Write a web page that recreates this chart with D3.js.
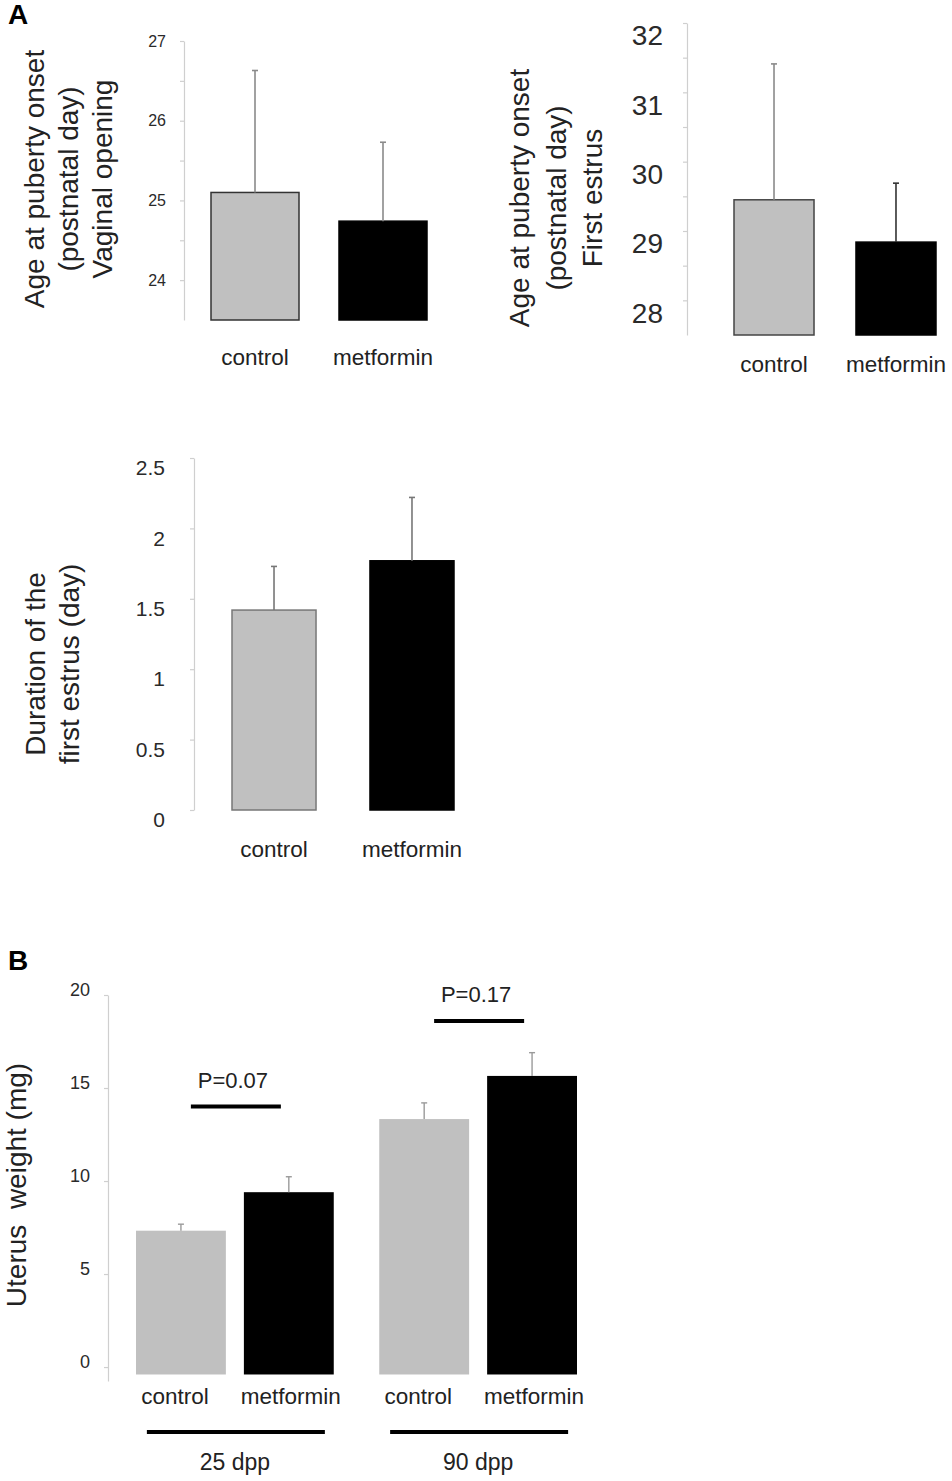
<!DOCTYPE html>
<html>
<head>
<meta charset="utf-8">
<script src="https://cdn.jsdelivr.net/npm/d3@7"></script>
<style>
  body { margin: 0; background: #fff; }
  svg text { font-family: "Liberation Sans", Arial, sans-serif; }
</style>
</head>
<body>
<div id="chart"></div>
<script>
// ---- data ----
const categories = ["control", "metformin"];

// A, top left: vaginal opening (postnatal day)
const vaginalMean = [25.1, 24.74];
const vaginalSD = [1.53, 0.99];
const vaginalTicks = [24, 24.5, 25, 25.5, 26, 26.5, 27];
const vaginalLabels = [24, 25, 26, 27];

// A, top right: first estrus (postnatal day)
const estrusMean = [29.45, 28.84];
const estrusSD = [1.96, 0.85];
const estrusTicks = [28, 28.5, 29, 29.5, 30, 30.5, 31, 31.5, 32];
const estrusLabels = [28, 29, 30, 31, 32];

// A, middle: duration of the first estrus (day)
const durationMean = [1.42, 1.77];
const durationSD = [0.31, 0.45];
const durationTicks = [0, 0.5, 1, 1.5, 2, 2.5];

// B: uterus weight (mg)
const ageGroups = ["25 dpp", "90 dpp"];
const uterusMean = [[7.33, 9.4], [13.33, 15.65]];
const uterusSD = [[0.35, 0.83], [0.87, 1.25]];
const uterusTicks = [0, 5, 10, 15, 20];
const pValues = ["P=0.07", "P=0.17"];
const pLevel = [14, 18.6];
const uterusBarFloor = -0.4;

const barFill = ["#c0c0c0", "#000000"];

const svg = d3.select("#chart")
  .append("svg")
  .attr("width", 952)
  .attr("height", 1481);

// panel letters
svg.append("text").attr("x", 8).attr("y", 24)
  .style("font-size", "28px").style("font-weight", "bold").text("A");
svg.append("text").attr("x", 8).attr("y", 970)
  .style("font-size", "28px").style("font-weight", "bold").text("B");

function styleAxis(g, cfg) {
  g.select(".domain").attr("stroke", "#cfcfcf").attr("stroke-width", 1.2);
  g.selectAll(".tick line").attr("stroke", "#cfcfcf").attr("stroke-width", 1.2);
  g.selectAll(".tick text")
    .attr("fill", "#2a2a2a")
    .attr("y", cfg.labelShift || 0)
    .style("font-size", cfg.tickFont + "px");
}

function yTitle(lines, baselines, cy) {
  lines.forEach((t, i) => {
    svg.append("text")
      .attr("transform", `translate(${baselines[i]},${cy}) rotate(-90)`)
      .attr("text-anchor", "middle")
      .attr("fill", "#222")
      .style("font-size", "28px")
      .style("white-space", "pre")
      .text(t);
  });
}

function drawSimplePanel(cfg) {
  const y = d3.scaleLinear().domain(cfg.domain).range(cfg.yRange);
  const x = d3.scaleBand().domain(categories).range(cfg.xRange)
    .paddingInner(cfg.padding).paddingOuter(0);

  const axis = d3.axisLeft(y)
    .tickValues(cfg.ticks)
    .tickFormat(d => (cfg.labels ? (cfg.labels.includes(d) ? d : "") : d))
    .tickSize(4)
    .tickSizeOuter(0)
    .tickPadding(cfg.tickPadding);

  const ga = svg.append("g")
    .attr("transform", `translate(${cfg.axisX},0)`)
    .call(axis);
  styleAxis(ga, cfg);

  const base = cfg.domain[0];
  const g = svg.append("g");

  g.selectAll(".bar")
    .data(categories)
    .enter()
    .append("rect")
    .attr("class", "bar")
    .attr("x", d => x(d))
    .attr("y", (d, i) => y(cfg.mean[i]))
    .attr("width", x.bandwidth())
    .attr("height", (d, i) => y(base) - y(cfg.mean[i]))
    .attr("fill", (d, i) => barFill[i])
    .attr("stroke", (d, i) => (i === 0 ? cfg.barStroke : "#000"))
    .attr("stroke-width", 1.5);

  // error bars (upper only)
  categories.forEach((c, i) => {
    const cx = x(c) + x.bandwidth() / 2;
    const top = y(cfg.mean[i] + cfg.sd[i]);
    g.append("line")
      .attr("x1", cx).attr("x2", cx)
      .attr("y1", y(cfg.mean[i])).attr("y2", top)
      .attr("stroke", cfg.errColor[i]).attr("stroke-width", 1.6);
    g.append("line")
      .attr("x1", cx - 3).attr("x2", cx + 3)
      .attr("y1", top).attr("y2", top)
      .attr("stroke", cfg.errColor[i]).attr("stroke-width", 1.6);
  });

  g.selectAll(".cat")
    .data(categories)
    .enter()
    .append("text")
    .attr("class", "cat")
    .attr("x", d => x(d) + x.bandwidth() / 2)
    .attr("y", cfg.catY)
    .attr("text-anchor", "middle")
    .attr("fill", "#222")
    .style("font-size", "22.5px")
    .text(d => d);

  yTitle(cfg.title, cfg.titleX, cfg.titleY);
}

drawSimplePanel({
  mean: vaginalMean, sd: vaginalSD,
  domain: [23.5, 27], yRange: [320, 41],
  ticks: vaginalTicks, labels: vaginalLabels,
  tickFont: 16, tickPadding: 14, labelShift: 0,
  axisX: 184, xRange: [211, 427], padding: 0.3125,
  barStroke: "#333", errColor: ["#8a8a8a", "#8a8a8a"],
  catY: 365,
  title: ["Age at puberty onset", "(postnatal day)", "Vaginal opening"],
  titleX: [44, 78, 112], titleY: 179
});

drawSimplePanel({
  mean: estrusMean, sd: estrusSD,
  domain: [27.5, 32], yRange: [335, 23],
  ticks: estrusTicks, labels: estrusLabels,
  tickFont: 28, tickPadding: 20, labelShift: 13,
  axisX: 687, xRange: [734, 936], padding: 0.344,
  barStroke: "#444", errColor: ["#8a8a8a", "#333"],
  catY: 372,
  title: ["Age at puberty onset", "(postnatal day)", "First estrus"],
  titleX: [529, 566, 602], titleY: 198
});

drawSimplePanel({
  mean: durationMean, sd: durationSD,
  domain: [0, 2.5], yRange: [810, 458],
  ticks: durationTicks, labels: null,
  tickFont: 21, tickPadding: 25, labelShift: 10,
  axisX: 194, xRange: [232, 454], padding: 0.391,
  barStroke: "#777", errColor: ["#777", "#777"],
  catY: 857,
  title: ["Duration of the", "first estrus (day)"],
  titleX: [45, 79], titleY: 664
});

// ---- panel B: grouped bars ----
(function () {
  const y = d3.scaleLinear().domain([-0.75, 20]).range([1381, 995]);
  const x0 = d3.scaleBand().domain(ageGroups).range([136, 577])
    .paddingInner(0.187).paddingOuter(0);
  const x1 = d3.scaleBand().domain(categories).range([0, x0.bandwidth()])
    .paddingInner(0.167).paddingOuter(0);

  const axis = d3.axisLeft(y)
    .tickValues(uterusTicks)
    .tickSize(4)
    .tickSizeOuter(0)
    .tickPadding(14);
  const ga = svg.append("g").attr("transform", "translate(108,0)").call(axis);
  styleAxis(ga, { tickFont: 18, labelShift: -5 });

  const groups = svg.selectAll(".grp")
    .data(ageGroups)
    .enter()
    .append("g")
    .attr("class", "grp")
    .attr("transform", d => `translate(${x0(d)},0)`);

  groups.each(function (grp, gi) {
    const g = d3.select(this);
    g.selectAll("rect")
      .data(categories)
      .enter()
      .append("rect")
      .attr("x", d => x1(d))
      .attr("y", (d, i) => y(uterusMean[gi][i]))
      .attr("width", x1.bandwidth())
      .attr("height", (d, i) => y(uterusBarFloor) - y(uterusMean[gi][i]))
      .attr("fill", (d, i) => barFill[i]);

    categories.forEach((c, i) => {
      const cx = x1(c) + x1.bandwidth() / 2;
      const top = y(uterusMean[gi][i] + uterusSD[gi][i]);
      g.append("line")
        .attr("x1", cx).attr("x2", cx)
        .attr("y1", y(uterusMean[gi][i])).attr("y2", top)
        .attr("stroke", "#9a9a9a").attr("stroke-width", 1.4);
      g.append("line")
        .attr("x1", cx - 3).attr("x2", cx + 3)
        .attr("y1", top).attr("y2", top)
        .attr("stroke", "#9a9a9a").attr("stroke-width", 1.4);
    });

    g.selectAll(".cat")
      .data(categories)
      .enter()
      .append("text")
      .attr("class", "cat")
      .attr("x", (d, i) => x1(d) + x1.bandwidth() / 2 + (i === 0 ? -6 : 2))
      .attr("y", 1404)
      .attr("text-anchor", "middle")
      .attr("fill", "#222")
      .style("font-size", "22.5px")
      .text(d => d);

    const mid = x0.bandwidth() / 2;

    // significance bar + p value
    g.append("line")
      .attr("x1", mid - 44).attr("x2", mid + 46)
      .attr("y1", y(pLevel[gi])).attr("y2", y(pLevel[gi]))
      .attr("stroke", "#000").attr("stroke-width", 4);
    g.append("text")
      .attr("x", mid - 2)
      .attr("y", y(pLevel[gi]) - 19)
      .attr("text-anchor", "middle")
      .attr("fill", "#222")
      .style("font-size", "22px")
      .text(pValues[gi]);

    // age group underline + label
    g.append("line")
      .attr("x1", mid - 88).attr("x2", mid + 90)
      .attr("y1", 1432).attr("y2", 1432)
      .attr("stroke", "#000").attr("stroke-width", 4);
    g.append("text")
      .attr("x", mid)
      .attr("y", 1470)
      .attr("text-anchor", "middle")
      .attr("fill", "#222")
      .style("font-size", "23px")
      .text(grp);
  });

  yTitle(["Uterus  weight (mg)"], [26], 1185);
})();
</script>
</body>
</html>
